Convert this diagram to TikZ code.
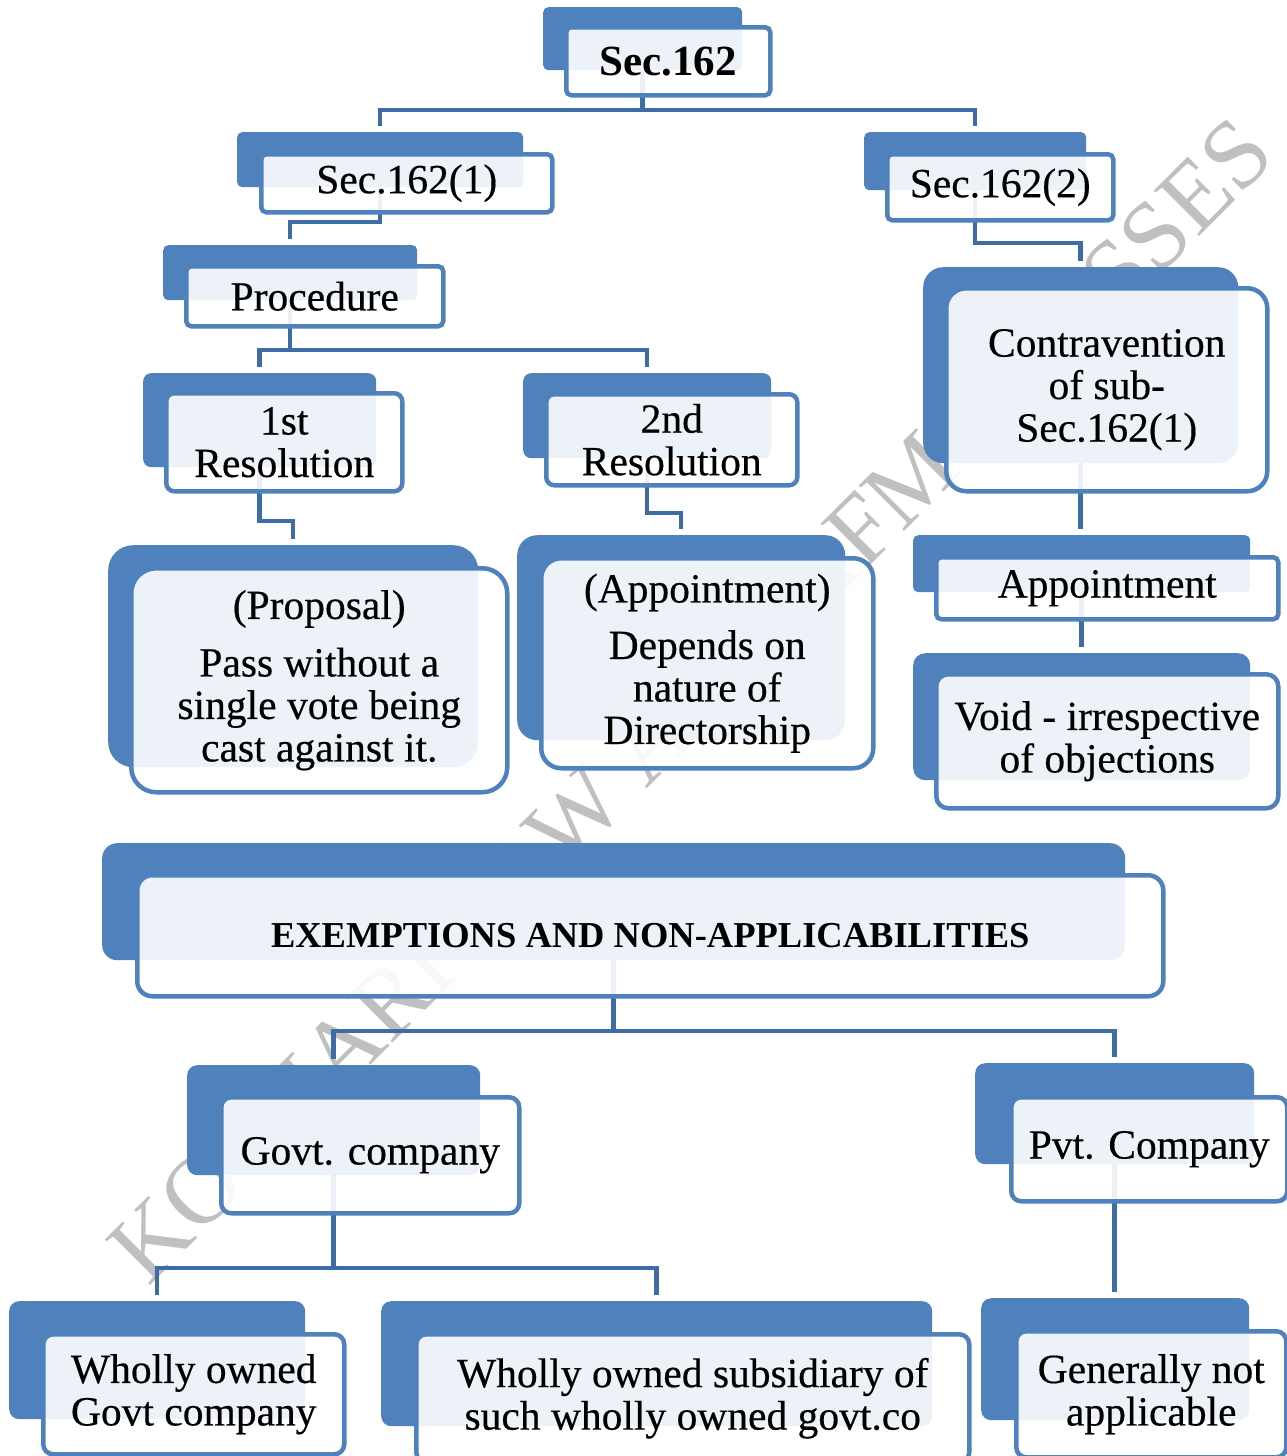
\documentclass[tikz,border=0pt]{standalone}
\usepackage{fontspec}
\setmainfont{Liberation Serif}
\newfontfamily\boxfont{Liberation Serif}[FakeBold=0.4]
\definecolor{boxblue}{RGB}{79,129,189}
\definecolor{linkblue}{RGB}{62,108,165}
\definecolor{wmgray}{RGB}{192,192,192}
\newcommand{\txtsize}{\boxfont\fontsize{41.5}{42.5}\selectfont}
\pgfdeclarelayer{wmlayer}
\pgfdeclarelayer{links}
\pgfsetlayers{wmlayer,links,main}
\tikzset{
  backbox/.style={fill=boxblue, draw=none, inner sep=0pt, anchor=north west},
  frontbox/.style={draw=boxblue, line width=4.5pt, fill=white, fill opacity=0.9,
    text opacity=1, inner sep=0pt, anchor=north west, align=center, font=\txtsize},
  conn/.style={draw=linkblue, line width=4.5pt, shorten >=6pt},
  wm/.style={text=wmgray, font=\fontsize{98}{98}\selectfont, inner sep=0pt}
}
\begin{document}
\begin{tikzpicture}[x=1pt,y=-1pt]
\useasboundingbox (0,0) rectangle (1287,1456);
\clip (0,0) rectangle (1287,1456);

% watermark, lowest layer
\begin{pgfonlayer}{wmlayer}
\fill[white] (0,0) rectangle (1287,1456);
\node[wm, anchor=base west, rotate=45] (wmark) at (148,1288) {KOTHARI LAW AND AFM CLASSES};
\end{pgfonlayer}

% back panels
\node[backbox, rounded corners=5, minimum width=199, minimum height=63] (secb) at (543,7) {};
\node[backbox, rounded corners=5, minimum width=286, minimum height=55] (s1b) at (237,132) {};
\node[backbox, rounded corners=5, minimum width=222, minimum height=58] (s2b) at (864,132) {};
\node[backbox, rounded corners=5, minimum width=254, minimum height=55] (procb) at (163,245) {};
\node[backbox, rounded corners=8, minimum width=233, minimum height=94] (r1b) at (143,373) {};
\node[backbox, rounded corners=8, minimum width=248, minimum height=85] (r2b) at (523,373) {};
\node[backbox, rounded corners=20, minimum width=315, minimum height=196] (conb) at (923,267) {};
\node[backbox, rounded corners=25, minimum width=370, minimum height=222] (propb) at (108,545) {};
\node[backbox, rounded corners=20, minimum width=328, minimum height=205] (apptb) at (517,535) {};
\node[backbox, rounded corners=5, minimum width=337, minimum height=57] (apprb) at (913,535) {};
\node[backbox, rounded corners=12, minimum width=337, minimum height=127] (voidb) at (913,653) {};
\node[backbox, rounded corners=15, minimum width=1023, minimum height=117] (exb) at (102,843) {};
\node[backbox, rounded corners=10, minimum width=293, minimum height=110] (govb) at (187,1065) {};
\node[backbox, rounded corners=10, minimum width=279, minimum height=101] (pvtb) at (975,1063) {};
\node[backbox, rounded corners=10, minimum width=296, minimum height=118] (wo1b) at (9,1301) {};
\node[backbox, rounded corners=10, minimum width=551, minimum height=125] (wo2b) at (381,1301) {};
\node[backbox, rounded corners=10, minimum width=268, minimum height=122] (genb) at (981,1298) {};

% levels of the horizontal connector runs
\coordinate (busA) at (0,110);
\coordinate (busB) at (0,222);
\coordinate (busC) at (0,243);
\coordinate (busD) at (0,350);
\coordinate (busE) at (0,521);
\coordinate (busF) at (0,513);
\coordinate (busG) at (0,1031);
\coordinate (busH) at (0,1268);

% connectors, kept under the panels
\begin{pgfonlayer}{links}
\draw[conn] (secb.center) -- (secb.center |- busA) -| (s1b.north);
\draw[conn] (secb.center |- busA) -| (s2b.north);
\draw[conn] (s1b.center) -- (s1b.center |- busB) -| (procb.north);
\draw[conn] (s2b.center) -- (s2b.center |- busC) -| (conb.north);
\draw[conn] (procb.center) -- (procb.center |- busD) -| (r1b.north);
\draw[conn] (procb.center |- busD) -| (r2b.north);
\draw[conn] (r1b.center) -- (r1b.center |- busE) -| (propb.north);
\draw[conn] (r2b.center) -- (r2b.center |- busF) -| (apptb.north);
\draw[conn] (conb.center) -- (conb.center |- apprb.north);
\draw[conn] (apprb.center) -- (apprb.center |- voidb.north);
\draw[conn] (exb.center) -- (exb.center |- busG) -| (govb.north);
\draw[conn] (exb.center |- busG) -| (pvtb.north);
\draw[conn] (govb.center) -- (govb.center |- busH) -| (wo1b.north);
\draw[conn] (govb.center |- busH) -| (wo2b.north);
\draw[conn] (pvtb.center) -- (pvtb.center |- genb.north);
\end{pgfonlayer}

% front panels with text
\node[frontbox, rounded corners=5, minimum width=204, minimum height=68, font=\fontsize{43}{43}\selectfont\bfseries] (sec) at (564,25) {Sec.162};
\node[frontbox, rounded corners=5, minimum width=291, minimum height=58] (s1) at (259,152) {Sec.162(1)};
\node[frontbox, rounded corners=5, minimum width=226, minimum height=66] (s2) at (885,152) {Sec.162(2)};
\node[frontbox, rounded corners=5, minimum width=257, minimum height=60] (proc) at (184,264) {Procedure};
\node[frontbox, rounded corners=8, minimum width=236, minimum height=98] (r1) at (164,391) {1st\\Resolution};
\node[frontbox, rounded corners=8, minimum width=251, minimum height=91] (r2) at (544,392) {2nd\\Resolution};
\node[frontbox, rounded corners=20, minimum width=321, minimum height=203] (con) at (944,286) {Contravention\\of sub-\\Sec.162(1)};
\node[frontbox, rounded corners=25, minimum width=376, minimum height=224] (prop) at (129,566) {(Proposal)\\[15pt]Pass without a\\single vote being\\cast against it.};
\node[frontbox, rounded corners=20, minimum width=332, minimum height=210] (appt) at (539,556) {(Appointment)\\[14pt]Depends on\\nature of\\Directorship};
\node[frontbox, rounded corners=5, minimum width=342, minimum height=62] (appr) at (934,555) {Appointment};
\node[frontbox, rounded corners=12, minimum width=342, minimum height=134] (void) at (934,672) {Void - irrespective\\of objections};
\node[frontbox, rounded corners=15, minimum width=1026, minimum height=121, font=\fontsize{36.5}{36.5}\selectfont\bfseries] (ex) at (135,873) {EXEMPTIONS AND NON-APPLICABILITIES};
\node[frontbox, rounded corners=10, minimum width=298, minimum height=116] (gov) at (219,1095) {Govt. company};
\node[frontbox, rounded corners=10, minimum width=276, minimum height=104] (pvt) at (1009,1095) {Pvt. Company};
\node[frontbox, rounded corners=10, minimum width=301, minimum height=120] (wo1) at (41,1332) {Wholly owned\\Govt company};
\node[frontbox, rounded corners=10, minimum width=553, minimum height=128] (wo2) at (414,1332) {Wholly owned subsidiary of\\such wholly owned govt.co};
\node[frontbox, rounded corners=10, minimum width=270, minimum height=126] (gen) at (1014,1329) {Generally not\\applicable};
\end{tikzpicture}
\end{document}
